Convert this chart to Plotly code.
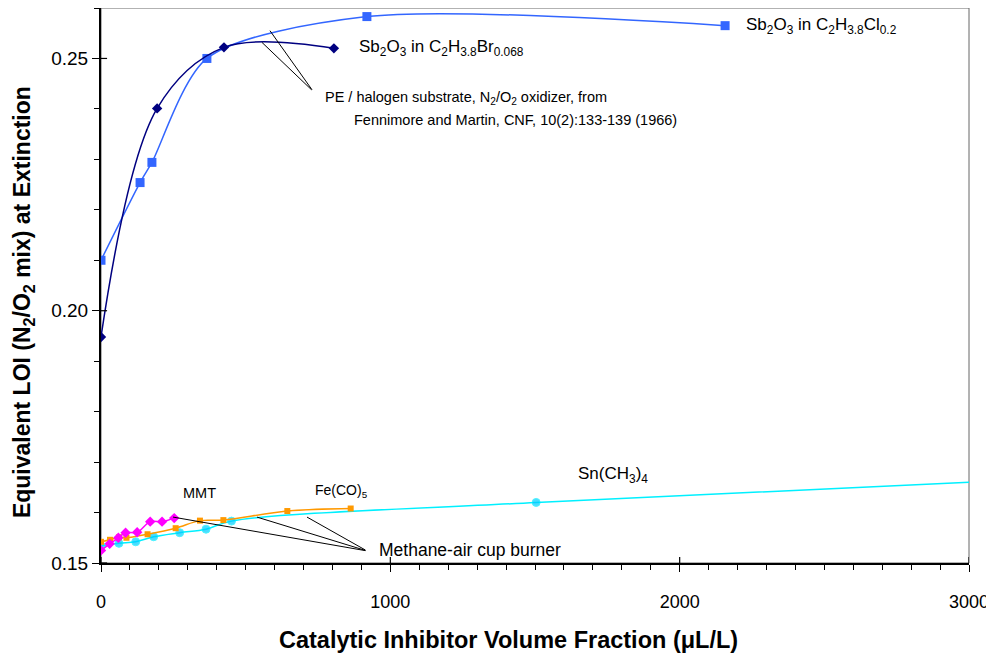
import plotly.graph_objects as go

# ---- data ----
cl_x = [0, 135, 176, 366, 919, 2157]
cl_y = [0.2100, 0.2254, 0.2294, 0.2500, 0.2583, 0.2565]

br_x = [0, 194, 425, 805]
br_y = [0.1948, 0.2401, 0.2522, 0.2520]

mmt_x = [0, 30, 60, 85, 125, 170, 211, 253]
mmt_y = [0.1525, 0.1538, 0.1550, 0.1560, 0.1561, 0.1582, 0.1582, 0.1589]

fe_x = [0, 31, 62, 88, 161, 258, 342, 423, 644, 863]
fe_y = [0.1542, 0.1546, 0.1551, 0.1550, 0.1557, 0.1569, 0.1584, 0.1585, 0.1603, 0.1608]

sn_x = [0, 62, 120, 182, 272, 363, 451, 1504, 3000]
sn_y = [0.1534, 0.1539, 0.1542, 0.1552, 0.1560, 0.1567, 0.1583, 0.1620, 0.1660]
sn_marker = [8, 8, 8, 8, 8, 8, 8, 8, 0]

x_range = [0, 3000]
y_range = [0.15, 0.26]
x_ticks = [0, 1000, 2000, 3000]
y_ticks = [0.15, 0.20, 0.25]

x_title = "<b>Catalytic Inhibitor Volume Fraction (μL/L)</b>"
y_title = "<b>Equivalent LOI (N<sub>2</sub>/O<sub>2</sub> mix) at Extinction</b>"

FONT = "Liberation Sans, Arial, sans-serif"

fig = go.Figure()

def add(x, y, line_color, marker_color, symbol, size, width=1.5, smoothing=1.0):
    fig.add_trace(go.Scatter(
        x=x, y=y, mode="lines+markers",
        line=dict(color=line_color, width=width, shape="spline", smoothing=smoothing),
        marker=dict(color=marker_color, symbol=symbol, size=size),
        hoverinfo="skip", showlegend=False))

add(sn_x, sn_y, "#00F0FF", "#00CCFF", "circle", sn_marker)
add(fe_x, fe_y, "#FF9900", "#FF9900", "square", 6)
add(mmt_x, mmt_y, "#FF00FF", "#FF00FF", "diamond", 8)
add(cl_x, cl_y, "#3366FF", "#3366FF", "square", 9, smoothing=0.8)
add(br_x, br_y, "#000080", "#000080", "diamond", 8)

# plot-area border (top / right)
fig.add_shape(type="rect", xref="paper", yref="paper", x0=0, y0=0, x1=1, y1=1,
              line=dict(color="#666666", width=1), layer="below")
# inner half of crossing major ticks
for t in x_ticks:
    fig.add_shape(type="line", xref="x", yref="paper", x0=t, x1=t, y0=0, y1=0.011,
                  line=dict(color="black", width=1.2))
for t in y_ticks:
    fig.add_shape(type="line", xref="paper", yref="y", x0=0, x1=0.007, y0=t, y1=t,
                  line=dict(color="black", width=1.2))

def leader(x0, y0, x1, y1):
    fig.add_annotation(x=x1, y=y1, ax=x0, ay=y0, axref="x", ayref="y",
                       xref="x", yref="y", text="", showarrow=True,
                       arrowhead=0, arrowwidth=1, arrowcolor="black")

# leaders
leader(733, 0.2435, 556, 0.2532)
leader(733, 0.2435, 584, 0.2555)
leader(919, 0.1524, 249, 0.1591)
leader(919, 0.1524, 539, 0.1591)
leader(919, 0.1524, 712, 0.1591)

def label(x, y, text, size=14, anchor="left"):
    fig.add_annotation(x=x, y=y, xref="x", yref="y", text=text, showarrow=False,
                       xanchor=anchor, yanchor="middle",
                       font=dict(family=FONT, size=size, color="black"))

label(885, 0.2520, "Sb<sub>2</sub>O<sub>3</sub> in C<sub>2</sub>H<sub>3.8</sub>Br<sub>0.068</sub>", 17)
label(2222, 0.2565, "Sb<sub>2</sub>O<sub>3</sub> in C<sub>2</sub>H<sub>3.8</sub>Cl<sub>0.2</sub>", 17)
label(767, 0.2421, "PE / halogen substrate, N<sub>2</sub>/O<sub>2</sub> oxidizer, from", 14.5)
label(868, 0.2379, "Fennimore and Martin, CNF, 10(2):133-139 (1966)", 14.5)
label(342, 0.1639, "MMT", 14.5, "center")
label(733, 0.1643, "Fe(CO)<sub>5</sub>", 14)
label(1642, 0.1674, "Sn(CH<sub>3</sub>)<sub>4</sub>", 17)
label(954, 0.1526, "Methane-air cup burner", 17.5)

# axis titles (placed like the original, slightly off-centre)
fig.add_annotation(x=0.469, y=-0.138, xref="paper", yref="paper", text=x_title,
                   showarrow=False, xanchor="center", yanchor="middle",
                   font=dict(family=FONT, size=23.5, color="black"))
fig.add_annotation(x=-0.0899, y=0.47, xref="paper", yref="paper", text=y_title,
                   showarrow=False, xanchor="center", yanchor="middle", textangle=-90,
                   font=dict(family=FONT, size=23, color="black"))

fig.update_layout(
    width=986, height=652,
    margin=dict(l=93, r=25, t=0, b=97),
    paper_bgcolor="white", plot_bgcolor="white",
    font=dict(family=FONT, color="black"),
    xaxis=dict(range=x_range, tickvals=x_ticks, showgrid=False, zeroline=False,
               showline=True, linecolor="black", linewidth=2,
               ticks="outside", ticklen=7, tickwidth=1.2, tickcolor="black",
               ticklabelstandoff=14, ticklabeloverflow="allow",
               minor=dict(dtick=100, ticks="outside", ticklen=5, tickwidth=1, tickcolor="black"),
               tickfont=dict(size=18)),
    yaxis=dict(range=y_range, tickvals=y_ticks, tickformat=".2f", showgrid=False,
               zeroline=False, showline=True, linecolor="black", linewidth=2,
               ticks="outside", ticklen=7, tickwidth=1.2, tickcolor="black",
               ticklabelstandoff=0,
               minor=dict(dtick=0.01, ticks="outside", ticklen=5, tickwidth=1, tickcolor="black"),
               tickfont=dict(size=19)),
)

fig.write_html("out.html")
